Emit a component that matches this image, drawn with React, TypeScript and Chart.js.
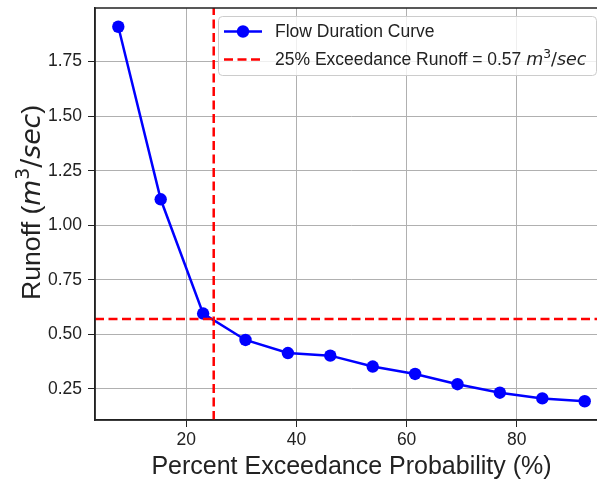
import { useEffect, useRef } from "react";
import { Chart, registerables } from "chart.js";

Chart.register(...registerables);

// Flow duration curve: exceedance probability (%) vs runoff (m^3/sec)
const exceedancePct = [7.69, 15.38, 23.08, 30.77, 38.46, 46.15, 53.85, 61.54, 69.23, 76.92, 84.62, 92.31];
const runoff = [1.91, 1.119, 0.595, 0.474, 0.414, 0.402, 0.352, 0.318, 0.271, 0.232, 0.206, 0.193];

// 25% exceedance reference lines
const targetPct = 25;
const targetRunoff = 0.57;

const xTicks = [20, 40, 60, 80];
const yTicks = [0.25, 0.5, 0.75, 1.0, 1.25, 1.5, 1.75];
const xLimits = [3.46, 96.54];
const yLimits = [0.107, 1.996];

const SANS = '"Liberation Sans", Arial, "DejaVu Sans", sans-serif';
const MATH = '"DejaVu Sans", sans-serif';
const TICK_SIZE = 17.5;
const XLABEL_SIZE = 25;
const YLABEL_SIZE = 26.7;
const INK = "#222222";

type Seg = { text: string; font: string; rise?: number };

function drawSegments(ctx: CanvasRenderingContext2D, segs: Seg[], x: number, y: number, align: "left" | "center") {
  const widths = segs.map((s) => {
    ctx.font = s.font;
    return ctx.measureText(s.text).width;
  });
  const total = widths.reduce((a, b) => a + b, 0);
  let cx = align === "center" ? x - total / 2 : x;
  ctx.textAlign = "left";
  ctx.textBaseline = "alphabetic";
  segs.forEach((s, i) => {
    ctx.font = s.font;
    ctx.fillText(s.text, cx, y - (s.rise || 0));
    cx += widths[i];
  });
}

function unitSegments(size: number): Seg[] {
  return [
    { text: "m", font: `oblique ${size}px ${MATH}` },
    { text: "3", font: `${size * 0.7}px ${MATH}`, rise: size * 0.38 },
    { text: "/", font: `${size}px ${MATH}` },
    { text: "sec", font: `oblique ${size}px ${MATH}` },
  ];
}

const decorations = {
  id: "decorations",
  afterDraw(chart: any) {
    const ctx: CanvasRenderingContext2D = chart.ctx;
    const area = chart.chartArea;
    ctx.save();

    // frame around the plotting area
    ctx.strokeStyle = INK;
    ctx.lineWidth = 1.5;
    ctx.strokeRect(area.left, area.top, area.right - area.left, area.bottom - area.top);

    // legend box
    const bx = 218.5;
    const by = 16.5;
    const bw = 596.5 - bx;
    const bh = 75.5 - by;
    ctx.beginPath();
    ctx.roundRect(bx, by, bw, bh, 4);
    ctx.fillStyle = "rgba(255,255,255,0.8)";
    ctx.fill();
    ctx.strokeStyle = "#cccccc";
    ctx.lineWidth = 1;
    ctx.stroke();

    const hx0 = 224;
    const hx1 = 262;
    const row1 = 31.5;
    const row2 = 59.5;

    ctx.strokeStyle = "#0000ff";
    ctx.lineWidth = 2.5;
    ctx.beginPath();
    ctx.moveTo(hx0, row1);
    ctx.lineTo(hx1, row1);
    ctx.stroke();
    ctx.fillStyle = "#0000ff";
    ctx.beginPath();
    ctx.arc((hx0 + hx1) / 2, row1, 6.2, 0, Math.PI * 2);
    ctx.fill();

    ctx.strokeStyle = "#ff0000";
    ctx.setLineDash([9, 4.5]);
    ctx.beginPath();
    ctx.moveTo(hx0, row2);
    ctx.lineTo(hx1, row2);
    ctx.stroke();
    ctx.setLineDash([]);

    ctx.fillStyle = INK;
    const sans = `${TICK_SIZE}px ${SANS}`;
    drawSegments(ctx, [{ text: chart.data.datasets[0].label, font: sans }], 275, 37, "left");
    drawSegments(
      ctx,
      [{ text: `${targetPct}% Exceedance Runoff = ${targetRunoff.toFixed(2)} `, font: sans }, ...unitSegments(TICK_SIZE)],
      275,
      65,
      "left"
    );

    // x axis title
    drawSegments(ctx, [{ text: "Percent Exceedance Probability (%)", font: `${XLABEL_SIZE}px ${SANS}` }], 351.5, 474, "center");

    // y axis title, rotated
    ctx.translate(39.5, 202.5);
    ctx.rotate(-Math.PI / 2);
    drawSegments(
      ctx,
      [
        { text: "Runoff (", font: `${YLABEL_SIZE}px ${SANS}` },
        ...unitSegments(YLABEL_SIZE),
        { text: ")", font: `${YLABEL_SIZE}px ${SANS}` },
      ],
      0,
      0,
      "center"
    );

    ctx.restore();
  },
};

export default function App() {
  const ref = useRef<HTMLCanvasElement>(null);

  useEffect(() => {
    const canvas = ref.current;
    if (!canvas) return;

    const tickFont = { family: SANS, size: TICK_SIZE };
    const gridStyle = { color: "#b0b0b0", lineWidth: 1, tickColor: INK, tickLength: 7, drawTicks: true };

    const chart = new Chart(canvas, {
      type: "line",
      data: {
        datasets: [
          {
            label: "Flow Duration Curve",
            data: exceedancePct.map((x, i) => ({ x, y: runoff[i] })),
            borderColor: "#0000ff",
            backgroundColor: "#0000ff",
            borderWidth: 2.5,
            pointRadius: 6.2,
            pointBorderWidth: 0,
            pointBackgroundColor: "#0000ff",
            tension: 0,
            order: 2,
          },
          {
            label: "25% Exceedance Runoff",
            data: [
              { x: xLimits[0], y: targetRunoff },
              { x: xLimits[1], y: targetRunoff },
            ],
            borderColor: "#ff0000",
            borderWidth: 2.5,
            borderDash: [9, 4.5],
            pointRadius: 0,
            order: 1,
          },
          {
            label: "25% Exceedance",
            data: [
              { x: targetPct, y: yLimits[0] },
              { x: targetPct, y: yLimits[1] },
            ],
            borderColor: "#ff0000",
            borderWidth: 2.5,
            borderDash: [9, 4.5],
            pointRadius: 0,
            order: 1,
          },
        ],
      },
      options: {
        responsive: false,
        animation: false,
        devicePixelRatio: 1,
        events: [],
        layout: { padding: { left: 0, top: 8, right: 12, bottom: 0 } },
        plugins: { legend: { display: false }, tooltip: { enabled: false } },
        scales: {
          x: {
            type: "linear",
            min: xLimits[0],
            max: xLimits[1],
            afterBuildTicks: (s: any) => {
              s.ticks = xTicks.map((value) => ({ value }));
            },
            afterFit: (s: any) => {
              s.height = 61;
              s.paddingLeft = 0;
              s.paddingRight = 0;
            },
            grid: gridStyle,
            border: { color: INK, width: 1.5 },
            ticks: { font: tickFont, color: INK, padding: 3, maxRotation: 0, callback: (v: any) => String(v) },
          },
          y: {
            type: "linear",
            min: yLimits[0],
            max: yLimits[1],
            afterBuildTicks: (s: any) => {
              s.ticks = yTicks.map((value) => ({ value }));
            },
            afterFit: (s: any) => {
              s.width = 95;
              s.paddingTop = 0;
              s.paddingBottom = 0;
            },
            grid: gridStyle,
            border: { color: INK, width: 1.5 },
            ticks: { font: tickFont, color: INK, padding: 6, callback: (v: any) => Number(v).toFixed(2) },
          },
        },
      },
      plugins: [decorations],
    });

    return () => chart.destroy();
  }, []);

  return (
    <div style={{ position: "absolute", left: 0, top: 0, width: 597, height: 481, overflow: "hidden", background: "#ffffff" }}>
      <canvas ref={ref} width={620} height={481} style={{ display: "block", width: 620, height: 481 }} />
    </div>
  );
}
